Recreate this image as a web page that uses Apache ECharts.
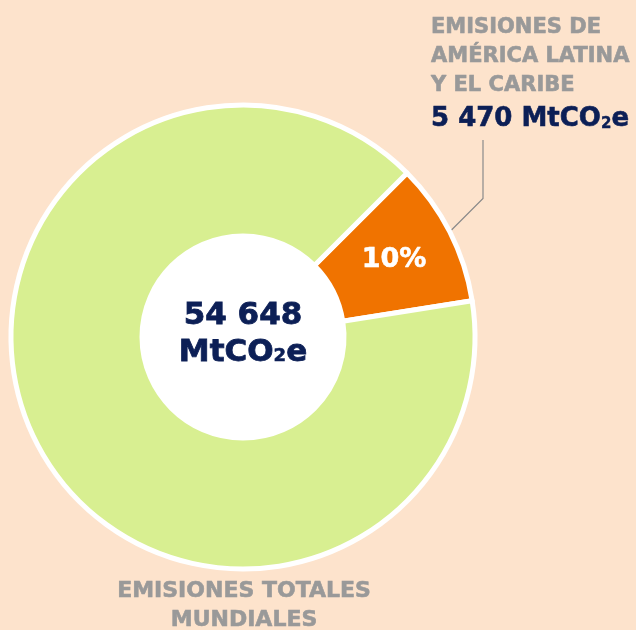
<!DOCTYPE html>
<html>
<head>
<meta charset="utf-8">
<script src="https://cdn.jsdelivr.net/npm/echarts@6/dist/echarts.min.js"></script>
<style>
  html, body { margin: 0; padding: 0; background: #fde3cc; }
  #chart { width: 636px; height: 630px; }
</style>
</head>
<body>
<div id="chart"></div>
<script>
// datos
var categories = ['EMISIONES DE\nAMÉRICA LATINA\nY EL CARIBE', 'EMISIONES TOTALES\nMUNDIALES'];
var latamValue = 5470;
var worldTotal = 54648;
var values = [latamValue, worldTotal - latamValue];
var valueTexts = ['5 470', '54 648'];
var colors = ['#f07300', '#d8ef91'];

var FONT = 'DejaVu Sans';
var NAVY = '#0c1f56';
var GRAY = '#999999';
var center = [243, 337];
var radius = [101, 232];

var chart = echarts.init(document.getElementById('chart'));

var pieData = values.map(function (v, i) {
	return { name: categories[i], value: v, itemStyle: { color: colors[i] } };
});

var labelData = values.map(function (v, i) {
	return {
		name: categories[i],
		value: v,
		labelLine: { show: i === 0 }
	};
});

// estilo de texto grueso
function txt(size, lh, color, extra) {
	var s = {
		fontFamily: FONT, fontWeight: 'bold', fontSize: size, lineHeight: lh,
		color: color, textBorderColor: color, textBorderWidth: 0.6
	};
	for (var k in extra) s[k] = extra[k];
	return s;
}

var option = {
	backgroundColor: '#fde3cc',
	animation: false,
	graphic: [
		{
			type: 'circle',
			shape: { cx: center[0], cy: center[1], r: radius[0] },
			style: { fill: '#fff' }
		},
		{
			type: 'text',
			style: {
				x: center[0],
				y: center[1] - 3,
				align: 'center',
				verticalAlign: 'middle',
				text: '{v|' + valueTexts[1] + '}\n{v|MtCO}{s|2}{v|e}',
				rich: {
					v: { fontFamily: FONT, fontWeight: 'bold', fontSize: 31, lineHeight: 37, fill: NAVY, stroke: NAVY, lineWidth: 0.8 },
					s: { fontFamily: FONT, fontWeight: 'bold', fontSize: 18, lineHeight: 37, fill: NAVY, stroke: NAVY, lineWidth: 0.6, verticalAlign: 'bottom', padding: [0, 0, 6, 0] }
				}
			}
		}
	],
	series: [
		{
			type: 'pie',
			center: center,
			radius: radius,
			startAngle: 45,
			clockwise: true,
			silent: true,
			avoidLabelOverlap: false,
			itemStyle: { borderColor: '#fff', borderWidth: 5 },
			label: {
				show: true,
				position: 'inside',
				formatter: function (p) {
					return p.dataIndex === 0 ? Math.round(p.percent) + '%' : '';
				},
				color: '#fff',
				textBorderColor: '#fff',
				textBorderWidth: 0.6,
				fontFamily: FONT,
				fontWeight: 'bold',
				fontSize: 27
			},
			labelLine: { show: false },
			data: pieData
		},
		{
			type: 'pie',
			center: center,
			radius: radius,
			startAngle: 45,
			clockwise: true,
			silent: true,
			avoidLabelOverlap: false,
			itemStyle: { color: 'rgba(0,0,0,0)', borderWidth: 0 },
			label: {
				show: true,
				position: 'outside',
				formatter: function (p) {
					if (p.dataIndex === 0) {
						return '{n|' + p.name + '}\n{v|' + valueTexts[0] + ' MtCO}{s|2}{v|e}';
					}
					return '{b|' + p.name + '}';
				},
				rich: {
					n: txt(21, 29, GRAY),
					b: txt(22, 29, GRAY),
					v: txt(26, 38, NAVY),
					s: txt(15, 38, NAVY, { verticalAlign: 'bottom', padding: [0, 0, 6, 0], textBorderWidth: 0.4 })
				}
			},
			labelLine: {
				show: true,
				length: 10,
				length2: 10,
				lineStyle: { color: '#8a8a8a', width: 1.2 }
			},
			labelLayout: function (params) {
				if (params.dataIndex === 0) {
					var pts = params.labelLinePoints;
					var out = { x: 431, y: 13, align: 'left', verticalAlign: 'top' };
					if (pts) {
						var s = pts[0];
						var lx = 483;
						out.labelLinePoints = [s, [lx, s[1] - (lx - s[0])], [lx, 140]];
					}
					return out;
				}
				return { x: 244, y: 577, align: 'center', verticalAlign: 'top' };
			},
			data: labelData
		}
	]
};

chart.setOption(option);
</script>
</body>
</html>
